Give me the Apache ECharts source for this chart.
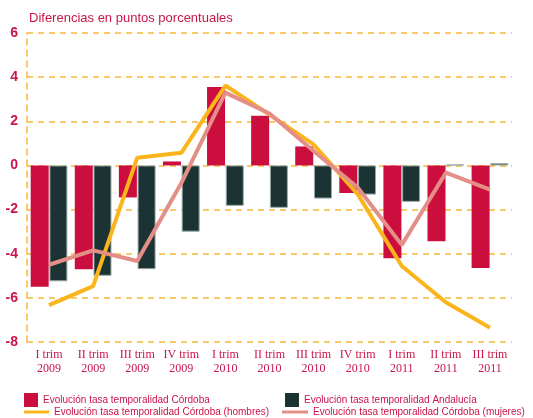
<!DOCTYPE html>
<html>
<head>
<meta charset="utf-8">
<script src="https://cdn.jsdelivr.net/npm/echarts@6/dist/echarts.min.js"></script>
<style>
  html, body { margin: 0; padding: 0; background: #fff; }
  #chart { width: 533px; height: 418px; }
</style>
</head>
<body>
<div id="chart"></div>
<script>
// trimestres
const categories = [
  'I trim\n2009', 'II trim\n2009', 'III trim\n2009', 'IV trim\n2009',
  'I trim\n2010', 'II trim\n2010', 'III trim\n2010', 'IV trim\n2010',
  'I trim\n2011', 'II trim\n2011', 'III trim\n2011'
];
const yTicks = { min: -8, max: 6, interval: 2 };

// valores
const cordoba = [-5.5, -4.7, -1.45, 0.18, 3.55, 2.25, 0.86, -1.25, -4.2, -3.43, -4.65];
const andalucia = [-5.25, -5.0, -4.7, -3.0, -1.83, -1.92, -1.5, -1.32, -1.65, 0.04, 0.1];
const hombres = [-6.33, -5.47, 0.35, 0.57, 3.62, 2.3, 0.95, -1.3, -4.56, -6.2, -7.35];
const mujeres = [-4.5, -3.85, -4.33, -0.8, 3.3, 2.35, 0.65, -1.0, -3.6, -0.33, -1.1];

const names = [
  'Evolución tasa temporalidad Córdoba',
  'Evolución tasa temporalidad Andalucía',
  'Evolución tasa temporalidad Córdoba (hombres)',
  'Evolución tasa temporalidad Córdoba (mujeres)'
];

const RED = '#cc0e3f';
const DARK = '#1c3334';
const YELLOW = '#fbb51c';
const PINK = '#e38f88';
const TEXT = '#c9154a';
const GRIDC = '#f8b83a';
const sans = "'Liberation Sans Narrow', 'Liberation Sans', sans-serif";

const chart = echarts.init(document.getElementById('chart'));

const legendBase = {
  orient: 'horizontal',
  itemGap: 0,
  textStyle: { color: TEXT, fontFamily: sans, fontSize: 10 },
  itemStyle: { borderWidth: 0 },
  selectedMode: false
};

chart.setOption({
  animation: false,
  title: {
    text: 'Diferencias en puntos porcentuales',
    left: 24,
    top: 7,
    textStyle: { color: TEXT, fontFamily: sans, fontSize: 13, fontWeight: 'normal' }
  },
  grid: { left: 27, right: 21, top: 33, bottom: 76 },
  legend: [
    Object.assign({}, legendBase, { data: [{ name: names[0], icon: 'rect' }], left: 19, top: 388, itemWidth: 14, itemHeight: 14 }),
    Object.assign({}, legendBase, { data: [{ name: names[1], icon: 'rect' }], left: 280, top: 388, itemWidth: 14, itemHeight: 14 }),
    Object.assign({}, legendBase, { data: [{ name: names[2], icon: 'rect' }], left: 19, top: 402, itemWidth: 25, itemHeight: 3 }),
    Object.assign({}, legendBase, { data: [{ name: names[3], icon: 'rect' }], left: 277, top: 402, itemWidth: 26, itemHeight: 3 })
  ],
  xAxis: {
    type: 'category',
    data: categories,
    position: 'bottom',
    axisLine: { show: false },
    axisTick: { show: false },
    axisLabel: {
      interval: 0,
      color: TEXT,
      fontFamily: "'Liberation Serif', 'DejaVu Serif', serif",
      fontSize: 12,
      lineHeight: 14,
      margin: 6
    }
  },
  yAxis: {
    type: 'value',
    min: yTicks.min,
    max: yTicks.max,
    interval: yTicks.interval,
    axisLine: { show: true, lineStyle: { color: GRIDC, type: [6, 5], width: 1.5 } },
    axisTick: { show: false },
    axisLabel: {
      color: TEXT,
      fontFamily: sans,
      fontWeight: 'bold',
      fontSize: 14,
      margin: 9
    },
    splitLine: { show: true, lineStyle: { color: GRIDC, type: [6, 5], width: 1.5 } }
  },
  series: [
    {
      name: names[0],
      type: 'bar',
      data: cordoba,
      barWidth: 18,
      barGap: '4%',
      itemStyle: { color: RED }
    },
    {
      name: names[1],
      type: 'bar',
      data: andalucia,
      barWidth: 18,
      itemStyle: { color: DARK, borderColor: '#98a8a8', borderWidth: 1 }
    },
    {
      name: names[2],
      type: 'line',
      data: hombres,
      showSymbol: false,
      symbol: 'none',
      lineStyle: { color: YELLOW, width: 4 },
      itemStyle: { color: YELLOW },
      z: 4
    },
    {
      name: names[3],
      type: 'line',
      data: mujeres,
      showSymbol: false,
      symbol: 'none',
      lineStyle: { color: PINK, width: 4 },
      itemStyle: { color: PINK },
      z: 5
    }
  ]
});
</script>
</body>
</html>
